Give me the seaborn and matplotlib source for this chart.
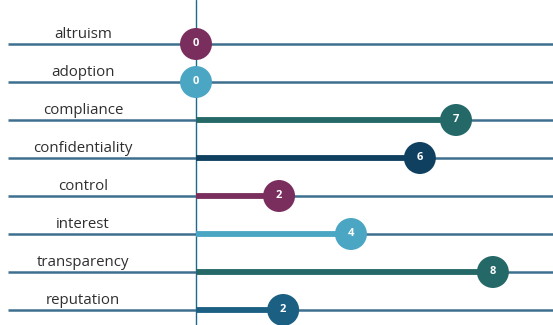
import matplotlib
matplotlib.use("Agg")
import matplotlib.pyplot as plt
import seaborn as sns
import pandas as pd

categories = ["altruism", "adoption", "compliance", "confidentiality",
              "control", "interest", "transparency", "reputation"]
values = [0, 0, 6.98, 6.01, 2.23, 4.16, 7.97, 2.34]
value_labels = ["0", "0", "7", "6", "2", "4", "8", "2"]
colors = ["#7A2E5E", "#4BA6C4", "#256868", "#0F405F",
          "#7A2E5E", "#4BA6C4", "#256868", "#1B5F82"]

sns.set_theme(style="white")
plt.rcParams['font.family'] = ['Open Sans', 'DejaVu Sans']

df = pd.DataFrame({"category": categories, "value": values,
                   "row": range(len(categories))})

fig = plt.figure(figsize=(5.53, 3.25), dpi=100)
ax = fig.add_axes([0, 0, 1, 1])

px_per_unit = 37.25
x0_px = 196
ax.set_xlim((0 - x0_px) / px_per_unit, (553 - x0_px) / px_per_unit)
row_gap = 38
top_px = 44
ax.set_ylim((325 - top_px) / row_gap, -top_px / row_gap)

xmin_line = (8 - x0_px) / px_per_unit
xmax_line = (553 - x0_px) / px_per_unit

# background row lines
ax.hlines(df["row"], xmin_line, xmax_line, color="#3D6F8F", linewidth=1.8, zorder=1)
# vertical zero line
ax.axvline(0, color="#1E6A8E", linewidth=1.0, zorder=2)
# stems
for r, v, c in zip(df["row"], df["value"], colors):
    ax.hlines(r, 0, v, color=c, linewidth=4.2, zorder=3)

sns.scatterplot(data=df, x="value", y="row", hue="category", palette=colors,
                s=530, legend=False, edgecolor="none", ax=ax, zorder=4)

for r, v, lab in zip(df["row"], df["value"], value_labels):
    ax.text(v, r, lab, ha="center", va="center", color="white",
            fontsize=8, fontweight="bold", zorder=5)

label_x = (83 - x0_px) / px_per_unit
for r, cat in zip(df["row"], df["category"]):
    ax.text(label_x, r - 10 / row_gap, cat, ha="center", va="center",
            color="#2F2F2F", fontsize=10.8, zorder=5)

ax.set_axis_off()
fig.savefig("out.png", dpi=100)
